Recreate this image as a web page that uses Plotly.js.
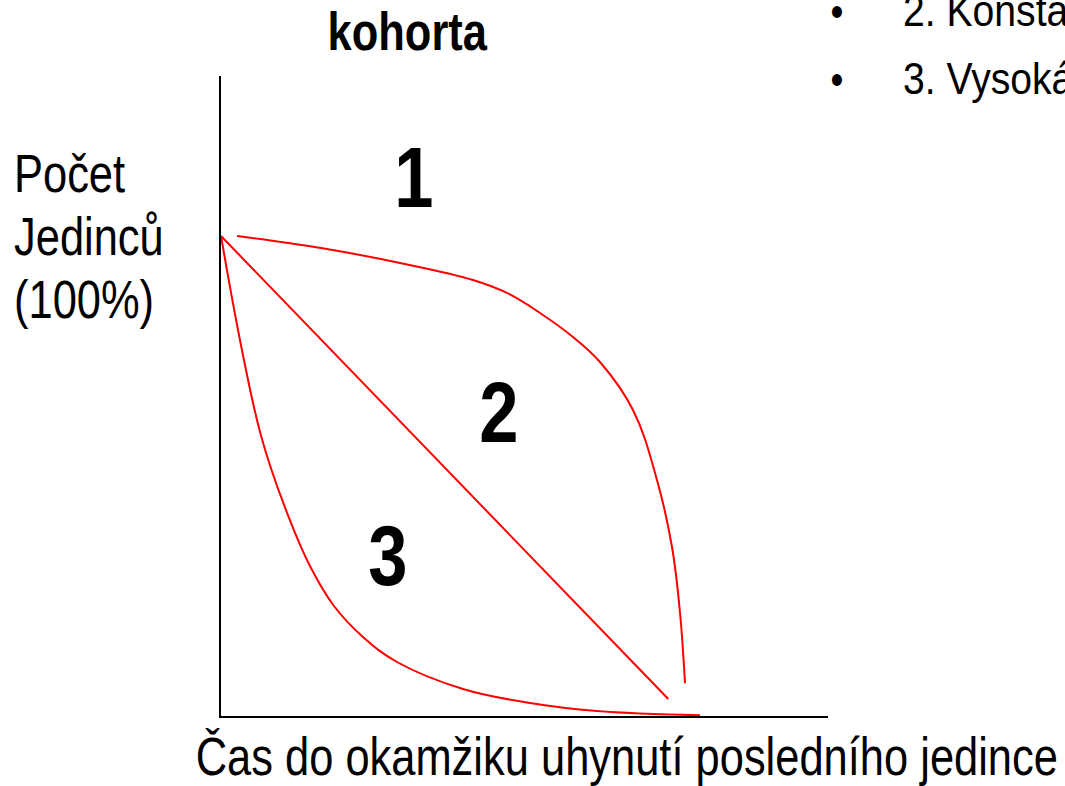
<!DOCTYPE html>
<html>
<head>
<meta charset="utf-8">
<script src="https://cdn.plot.ly/plotly-3.0.1.min.js"></script>
<style>html,body{margin:0;padding:0;background:#fff;overflow:hidden}#chart{width:1065px;height:786px}</style>
</head>
<body>
<div id="chart"></div>
<script>
// Survival curves (x: time, y: % of individuals)
const type1X = [3.33, 20.83, 37.29, 52.5, 59.58, 66.46, 73.33, 78.96, 85.83, 90.83, 93.96, 95.63, 96.67];
const type1Y = [100, 97.5, 94.38, 90.83, 88.13, 83.96, 78.96, 73.75, 63.75, 49.17, 35.21, 21.46, 6.81];
const type2X = [0, 93.19];
const type2Y = [100, 3.54];
const type3X = [0, 4.23, 8.4, 13.27, 18.54, 23.54, 29.58, 36.67, 50.42, 64.38, 78.33, 99.79];
const type3Y = [100, 76.94, 58.19, 43.6, 31.25, 22.92, 16.46, 11.25, 5.63, 2.71, 1.04, 0.15];

const titleText = 'kohorta';
const yLabelLines = ['Počet', 'Jedinců', '(100%)'];
const xLabelText = 'Čas do okamžiku uhynutí posledního jedince';
const curveLabels = ['1', '2', '3'];
const bulletLines = ['2. Konsta', '3. Vysoká'];

const FONT = '"Liberation Sans", Arial, sans-serif';

const L = 221, R = 828, T = 76, B = 716, W = 1065, H = 786;
const px2x = p => (p - L) / (R - L);
const py2y = p => (B - p) / (B - T);

const curveLine = {color: '#ff0000', width: 2, shape: 'spline', smoothing: 1.1, simplify: false};
const straightLine = {color: '#ff0000', width: 2, simplify: false};
const traces = [
  {x: type1X, y: type1Y, mode: 'lines', line: curveLine, hoverinfo: 'skip'},
  {x: type2X, y: type2Y, mode: 'lines', line: straightLine, hoverinfo: 'skip'},
  {x: type3X, y: type3Y, mode: 'lines', line: curveLine, hoverinfo: 'skip'}
];

const squeeze = [];
function ann(text, px, py, size, bold, xanchor, sx) {
  squeeze.push(sx || 0.82);
  return {
    text: bold ? '<b>' + text + '</b>' : text,
    x: px2x(px), y: py2y(py), xref: 'paper', yref: 'paper',
    xanchor: xanchor || 'center', yanchor: 'middle',
    showarrow: false, align: 'left',
    font: {family: FONT, size: size, color: '#000'}
  };
}

const annotations = [
  ann(titleText, 407, 32, 53, true),
  ann(yLabelLines[0], 12, 173, 53, false, 'left'),
  ann(yLabelLines[1], 12, 236, 53, false, 'left'),
  ann(yLabelLines[2], 12, 299, 53, false, 'left'),
  ann(xLabelText, 627, 756, 53, false),
  ann(curveLabels[0], 414, 177, 86, true),
  ann(curveLabels[1], 499, 412, 86, true),
  ann(curveLabels[2], 388, 555, 86, true),
  ann('•', 837, 11, 45, false),
  ann('•', 837, 80, 45, false),
  ann(bulletLines[0], 901, 10, 45, false, 'left', 0.87),
  ann(bulletLines[1], 901, 79, 45, false, 'left', 0.87)
];

const layout = {
  width: W, height: H,
  margin: {l: L, r: W - R, t: T, b: H - B, pad: 0},
  paper_bgcolor: '#fff', plot_bgcolor: '#fff',
  showlegend: false,
  xaxis: {range: [0, 126.46], showline: true, linecolor: '#000', linewidth: 2, showgrid: false, zeroline: false, showticklabels: false, ticks: '', fixedrange: true},
  yaxis: {range: [0, 133.33], showline: true, linecolor: '#000', linewidth: 2, showgrid: false, zeroline: false, showticklabels: false, ticks: '', fixedrange: true},
  annotations: annotations
};

Plotly.newPlot('chart', traces, layout, {staticPlot: true, displayModeBar: false}).then(() => {
  document.querySelectorAll('g.annotation').forEach(g => {
    const i = +g.getAttribute('data-index');
    const a = annotations[i];
    const t = g.querySelector('text.annotation-text');
    if (!t || !a) return;
    t.style.transformBox = 'fill-box';
    t.style.transformOrigin = a.xanchor === 'left' ? 'left center' : 'center center';
    t.style.transform = 'scaleX(' + squeeze[i] + ')';
  });
});
</script>
</body>
</html>
